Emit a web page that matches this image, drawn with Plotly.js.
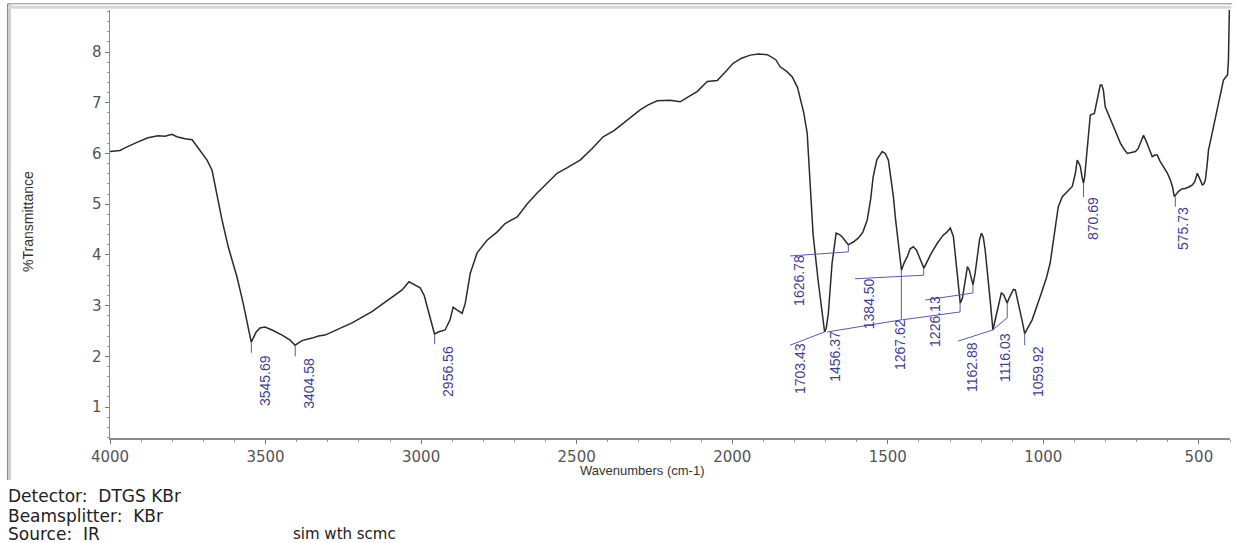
<!DOCTYPE html>
<html>
<head>
<meta charset="utf-8">
<script src="https://cdn.plot.ly/plotly-3.0.1.min.js"></script>
<style>html,body{margin:0;padding:0;background:#fff;}#chart{width:1238px;height:543px;}</style>
</head>
<body>
<div id="chart"></div>
<script>
// Spectrum (wavenumber cm-1, %Transmittance)
const wavenumbers = [4000,3968,3952,3930,3910,3878,3846,3823,3801,3785,3759,3736,3717,3700,3688,3672,3662,3640,3620,3592,3572,3556,3546,3530,3518,3502,3479,3447,3421,3405,3383,3350,3330,3309,3290,3267,3222,3158,3106,3061,3039,3030,3019,3003,2990,2981,2965,2957,2945,2923,2907,2897,2884,2868,2858,2842,2820,2788,2756,2730,2691,2660,2627,2595,2563,2530,2489,2450,2415,2380,2350,2320,2296,2270,2241,2200,2167,2140,2113,2080,2048,2020,1997,1970,1942,1915,1887,1860,1846,1825,1807,1790,1781,1770,1759,1749,1740,1724,1712,1703,1698,1691,1679,1666,1655,1647,1627,1610,1595,1580,1566,1555,1547,1535,1518,1508,1498,1490,1482,1475,1466,1456,1447,1437,1428,1418,1408,1399,1390,1384,1375,1363,1341,1322,1310,1299,1289,1277,1267,1260,1254,1244,1238,1232,1226,1219,1212,1205,1199,1193,1187,1178,1170,1162,1155,1148,1135,1128,1122,1116,1110,1103,1096,1090,1084,1077,1068,1060,1052,1036,1010,990,978,971,961,952,939,923,907,897,891,885,881,876,871,867,862,855,849,836,826,817,812,807,801,790,778,765,752,740,730,717,704,695,688,678,670,662,655,650,642,634,625,617,609,601,592,585,579,572,566,555,544,532,521,513,505,497,489,484,479,474,469,461,453,445,437,429,421,412,408,405,403,401];
const transmittance = [6.04,6.06,6.11,6.18,6.23,6.31,6.35,6.34,6.38,6.33,6.29,6.27,6.11,5.98,5.87,5.67,5.35,4.69,4.16,3.57,3.05,2.58,2.28,2.48,2.56,2.58,2.52,2.42,2.32,2.22,2.31,2.36,2.40,2.42,2.47,2.54,2.66,2.88,3.11,3.31,3.47,3.44,3.41,3.35,3.20,2.98,2.58,2.44,2.48,2.52,2.72,2.97,2.91,2.85,3.05,3.64,4.04,4.29,4.45,4.62,4.75,5.00,5.22,5.42,5.61,5.72,5.87,6.10,6.33,6.45,6.60,6.74,6.86,6.96,7.04,7.05,7.02,7.12,7.22,7.42,7.44,7.62,7.78,7.88,7.94,7.96,7.95,7.85,7.71,7.62,7.51,7.30,7.06,6.80,6.40,5.35,4.40,3.50,2.85,2.48,2.55,2.85,3.84,4.43,4.40,4.36,4.20,4.26,4.33,4.45,4.69,5.10,5.54,5.88,6.04,6.00,5.87,5.55,5.15,4.70,4.16,3.70,3.85,3.97,4.12,4.16,4.10,3.97,3.82,3.74,3.85,4.00,4.23,4.39,4.45,4.53,4.36,3.70,3.05,3.15,3.37,3.77,3.70,3.57,3.41,3.65,3.97,4.30,4.43,4.35,4.10,3.60,3.05,2.52,2.70,2.91,3.25,3.22,3.15,3.05,3.15,3.25,3.32,3.31,3.15,2.98,2.70,2.45,2.55,2.72,3.18,3.55,3.84,4.16,4.56,4.95,5.15,5.25,5.35,5.61,5.87,5.80,5.74,5.55,5.41,5.55,5.87,6.40,6.76,6.79,7.06,7.35,7.35,7.25,6.92,6.75,6.59,6.40,6.20,6.08,6.00,6.02,6.04,6.10,6.20,6.36,6.25,6.13,6.00,5.94,5.97,5.97,5.85,5.77,5.70,5.61,5.48,5.35,5.15,5.20,5.25,5.30,5.31,5.34,5.38,5.45,5.61,5.50,5.38,5.40,5.48,5.75,6.07,6.30,6.53,6.80,7.06,7.25,7.45,7.52,7.55,7.84,8.40,9.20];

// Peak picks
const peakWn = [3545.69,3404.58,2956.56,1703.43,1626.78,1456.37,1384.50,1267.62,1226.13,1162.88,1116.03,1059.92,870.69,575.73];
const peakT  = [2.28,2.22,2.44,2.48,4.20,3.70,3.74,3.05,3.41,2.52,3.05,2.45,5.41,5.15];
// leader: vertical drop end, then optional diagonal end point
const leaderDropT = [2.07,2.00,2.24,2.48,4.06,2.72,3.60,2.875,3.25,2.52,2.76,2.22,5.14,4.95];
const leaderEndWn = [null,null,null,1814,1814,1695,1605,1454,1380,1274,1163,null,null,null];
const leaderEndT  = [null,null,null,2.22,3.98,2.48,3.53,2.72,3.11,2.30,2.52,null,null,null];
// label centres
const labelWn = [3502,3360,2914,1782,1785,1670,1560,1461,1348,1229,1123,1017,840,551];
const labelT  = [1.53,1.46,1.71,1.75,3.49,2.01,3.03,2.24,2.68,1.79,1.97,1.69,4.71,4.51];

const xTickVals = [4000,3500,3000,2500,2000,1500,1000,500];
const yTickVals = [1,2,3,4,5,6,7,8];
const footerLines = ['Detector:  DTGS KBr','Beamsplitter:  KBr','Source:  IR'];
const sampleName = 'sim wth scmc';

const labelColor = '#3f3f90';
const traces = [{
  x: wavenumbers, y: transmittance, type: 'scatter', mode: 'lines',
  line: {color: '#2b2b2b', width: 1.5}, hoverinfo: 'x+y', showlegend: false
}];
for (let i = 0; i < peakWn.length; i++) {
  const xs = [peakWn[i], peakWn[i]], ys = [peakT[i], leaderDropT[i]];
  if (leaderEndWn[i] !== null) { xs.push(leaderEndWn[i]); ys.push(leaderEndT[i]); }
  traces.push({x: xs, y: ys, type: 'scatter', mode: 'lines',
    line: {color: '#5a5aa8', width: 1}, hoverinfo: 'skip', showlegend: false});
}

const annotations = [];
for (let i = 0; i < peakWn.length; i++) {
  annotations.push({x: labelWn[i], y: labelT[i], xref: 'x', yref: 'y',
    text: peakWn[i].toFixed(2), textangle: -90, showarrow: false,
    xanchor: 'center', yanchor: 'middle',
    font: {family: 'Liberation Sans, Arial, sans-serif', size: 14, color: labelColor}});
}
annotations.push({x: -0.0732, y: 0.505, xref: 'paper', yref: 'paper', text: '%Transmittance',
  textangle: -90, showarrow: false, xanchor: 'center', yanchor: 'middle',
  font: {family: 'Liberation Sans, Arial, sans-serif', size: 14, color: '#333'}});
annotations.push({x: 0.475, y: -0.0748, xref: 'paper', yref: 'paper', text: 'Wavenumbers (cm-1)',
  showarrow: false, xanchor: 'center', yanchor: 'middle',
  font: {family: 'Liberation Sans, Arial, sans-serif', size: 13, color: '#333'}});
const footerY = [-0.1355, -0.1822, -0.2243];
footerLines.forEach((t, i) => annotations.push({x: -0.0925, y: footerY[i], xref: 'paper', yref: 'paper',
  text: t, showarrow: false, xanchor: 'left', yanchor: 'middle',
  font: {family: 'DejaVu Sans, sans-serif', size: 17, color: '#222'}}));
annotations.push({x: 0.1615, y: -0.2243, xref: 'paper', yref: 'paper', text: sampleName,
  showarrow: false, xanchor: 'left', yanchor: 'middle',
  font: {family: 'DejaVu Sans, sans-serif', size: 15, color: '#222'}});

const shapes = [
  {type: 'line', xref: 'paper', yref: 'paper', x0: -0.0902, x1: -0.0902, y0: 1.014, y1: -0.098, line: {color: '#cfcfcf', width: 4}},
  {type: 'line', xref: 'paper', yref: 'paper', x0: -0.0915, x1: 1.001, y0: 1.0065, y1: 1.0065, line: {color: '#d8d8d8', width: 3}},
  {type: 'line', xref: 'paper', yref: 'paper', x0: -0.0915, x1: -0.0915, y0: 1.0145, y1: -0.098, line: {color: '#8a8a8a', width: 1}},
  {type: 'line', xref: 'paper', yref: 'paper', x0: -0.0915, x1: 1.002, y0: 1.0145, y1: 1.0145, line: {color: '#8a8a8a', width: 1}}
];

const axisFont = {family: 'DejaVu Sans, sans-serif', size: 15, color: '#555'};
const layout = {
  width: 1238, height: 543,
  margin: {l: 110, r: 8, t: 10, b: 105},
  paper_bgcolor: '#fff', plot_bgcolor: '#fff',
  showlegend: false,
  xaxis: {range: [4000, 400], tickmode: 'array', tickvals: xTickVals, ticktext: xTickVals.map(String),
    showline: true, linecolor: '#8a8a8a', linewidth: 1.5, ticks: 'outside', ticklen: 4, tickcolor: '#777',
    minor: {dtick: 100, tick0: 0, ticks: 'outside', ticklen: 2, tickcolor: '#999'},
    showgrid: false, zeroline: false, tickfont: axisFont},
  yaxis: {range: [0.39, 8.83], tickmode: 'array', tickvals: yTickVals, ticktext: yTickVals.map(String),
    showline: true, linecolor: '#8a8a8a', linewidth: 1.5, ticks: 'outside', ticklen: 4, tickcolor: '#777',
    minor: {dtick: 0.2, tick0: 0, ticks: 'outside', ticklen: 2, tickcolor: '#999'},
    showgrid: false, zeroline: false, tickfont: axisFont},
  annotations: annotations,
  shapes: shapes
};
Plotly.newPlot('chart', traces, layout, {displayModeBar: false, staticPlot: true});
</script>
</body>
</html>
